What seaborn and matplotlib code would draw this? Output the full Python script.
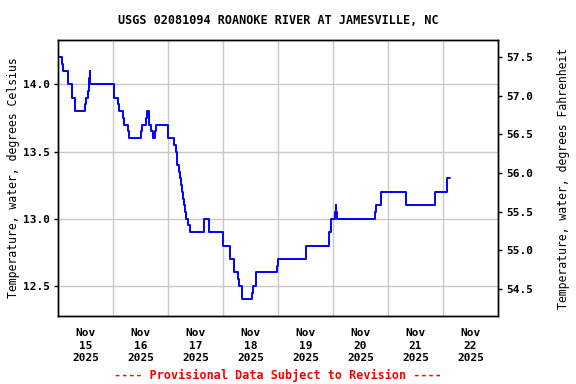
import matplotlib
matplotlib.use("Agg")
import matplotlib.pyplot as plt
import seaborn as sns
import pandas as pd

# hours since Nov 15 2025 00:00 where the reading changes, and the new reading
hours = [0.0, 1.75, 2.2, 4.4, 6.1, 7.4, 11.9, 12.4, 13.1, 13.5, 13.75, 14.0,
         24.4, 26.2, 26.6, 28.4, 28.8, 30.5, 31.0, 36.4, 36.7, 38.5, 38.8,
         39.7, 40.7, 41.5, 42.2, 42.6, 48.1, 50.6, 51.3, 51.9, 52.8, 53.2,
         53.7, 54.1, 54.5, 55.0, 55.4, 56.0, 56.7, 57.4, 63.7, 66.1, 71.9,
         72.2, 75.0, 76.7, 78.4, 79.0, 80.2, 84.5, 85.1, 86.4, 95.4, 95.8,
         108.1, 118.3, 119.0, 120.7, 121.2, 121.5, 121.7, 138.3, 138.8,
         140.9, 151.9, 164.7, 169.7, 171.2]
temp_c = [14.2, 14.15, 14.1, 14.0, 13.9, 13.8, 13.85, 13.9, 13.95, 14.05, 14.1, 14.0,
          13.9, 13.85, 13.8, 13.75, 13.7, 13.65, 13.6, 13.65, 13.7, 13.75, 13.8,
          13.7, 13.65, 13.6, 13.65, 13.7, 13.6, 13.55, 13.5, 13.4, 13.35, 13.3,
          13.25, 13.2, 13.15, 13.1, 13.05, 13.0, 12.95, 12.9, 13.0, 12.9, 12.85,
          12.8, 12.7, 12.6, 12.55, 12.5, 12.4, 12.45, 12.5, 12.6, 12.65, 12.7,
          12.8, 12.9, 13.0, 13.05, 13.1, 13.05, 13.0, 13.05, 13.1,
          13.2, 13.1, 13.2, 13.3, 13.3]

day_labels = ["Nov\n15\n2025", "Nov\n16\n2025", "Nov\n17\n2025", "Nov\n18\n2025",
              "Nov\n19\n2025", "Nov\n20\n2025", "Nov\n21\n2025", "Nov\n22\n2025"]
c_ticks = [12.5, 13.0, 13.5, 14.0]
f_ticks = [54.5, 55.0, 55.5, 56.0, 56.5, 57.0, 57.5]

df = pd.DataFrame({"hours": hours, "temp_c": temp_c})

sns.set_style("white")
plt.rcParams["font.family"] = ["DejaVu Sans Mono"]
plt.rcParams["font.weight"] = "bold"
plt.rcParams["text.color"] = "black"
plt.rcParams["axes.labelcolor"] = "black"
plt.rcParams["xtick.color"] = "black"
plt.rcParams["ytick.color"] = "black"

fig = plt.figure(figsize=(5.76, 3.84), dpi=100)
ax = fig.add_axes([58 / 576, 1 - 316 / 384, 440 / 576, 276 / 384])

sns.lineplot(data=df, x="hours", y="temp_c", drawstyle="steps-post",
             color="#0000ff", linewidth=1.4, estimator=None, ax=ax)

ax.set_xlim(0, 192)
ax.set_ylim(12.276, 14.33)
ax.set_xticks([12 + 24 * i for i in range(8)])
ax.set_xticklabels(day_labels, fontsize=8, linespacing=1.3)
ax.set_xticks([24 * i for i in range(1, 8)], minor=True)
ax.set_yticks(c_ticks)
ax.set_yticklabels([f"{v:.1f}" for v in c_ticks], fontsize=8)
ax.grid(which="minor", axis="x", color="#c8c8c8", linewidth=1)
ax.grid(which="major", axis="y", color="#c8c8c8", linewidth=1)
ax.grid(which="major", axis="x", visible=False)
ax.tick_params(axis="x", which="both", length=0, pad=9)
ax.tick_params(axis="y", length=3, width=1, direction="out", left=True, pad=3)
ax.set_xlabel("")
ax.set_ylabel("Temperature, water, degrees Celsius", fontsize=8.3, labelpad=2)
for s in ax.spines.values():
    s.set_color("black")
    s.set_linewidth(1)

ax2 = ax.twinx()
ax2.set_ylim(54.15, 57.72)
ax2.set_yticks(f_ticks)
ax2.set_yticklabels([f"{v:.1f}" for v in f_ticks], fontsize=8)
ax2.tick_params(axis="y", length=3, width=1, direction="out", right=True, pad=3)
ax2.set_ylabel("Temperature, water, degrees Fahrenheit", fontsize=8.3, labelpad=17)
ax2.grid(False)
for s in ax2.spines.values():
    s.set_color("black")
    s.set_linewidth(1)

fig.text(278 / 576, 1 - 20 / 384, "USGS 02081094 ROANOKE RIVER AT JAMESVILLE, NC",
         ha="center", va="center", fontsize=8.5)
fig.text(278 / 576, 1 - 375 / 384, "---- Provisional Data Subject to Revision ----",
         ha="center", va="center", fontsize=8.5, color="red")

fig.savefig("out.png", dpi=100)
